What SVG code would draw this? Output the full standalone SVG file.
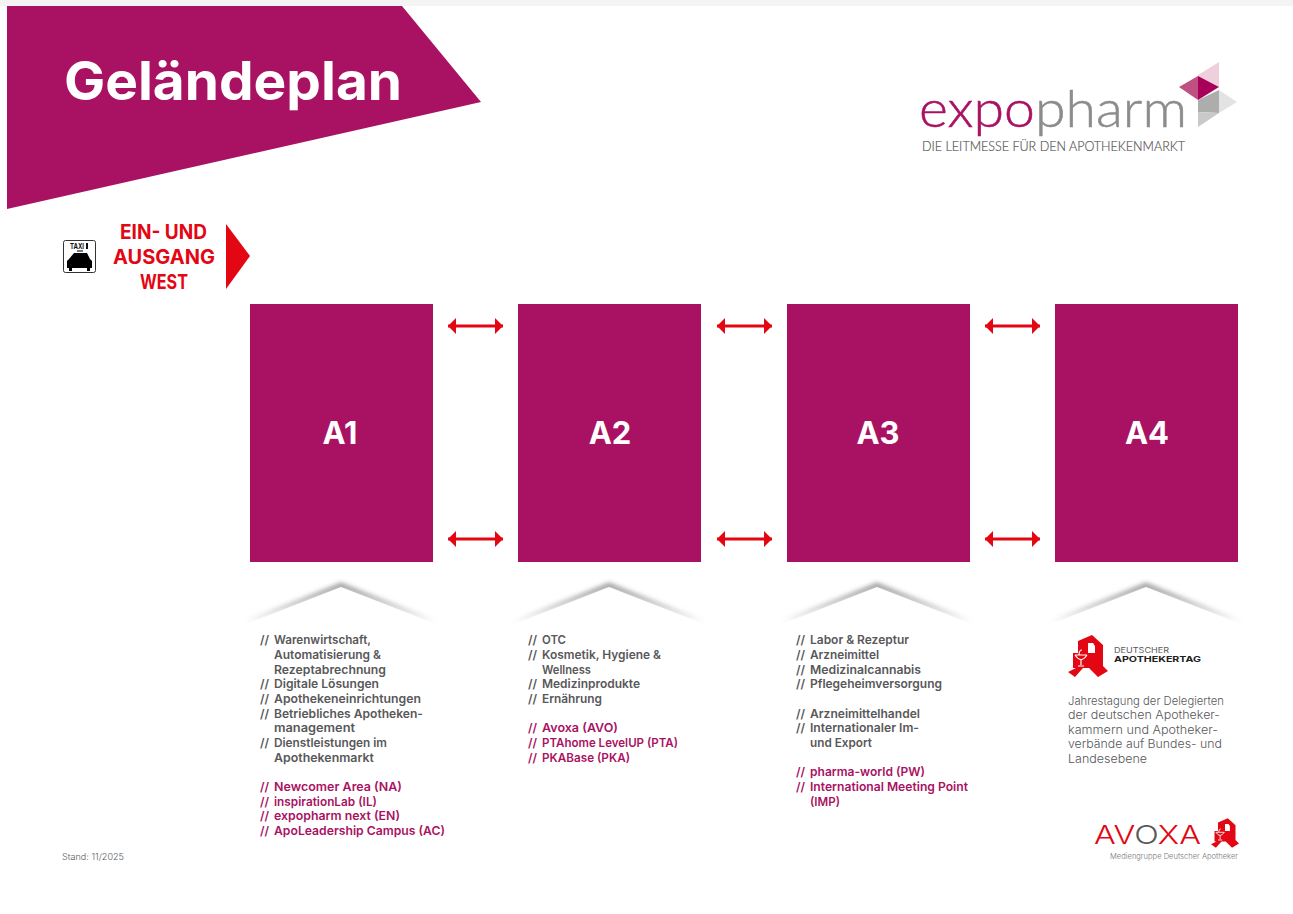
<svg xmlns="http://www.w3.org/2000/svg" width="1293" height="914" viewBox="0 0 1293 914">
<style>
text{font-family:Inter,"Liberation Sans",sans-serif}
.l{font-weight:600;font-size:12px;fill:#58585a}
.m{fill:#a91263}
.h{font-weight:700;font-size:31px;fill:#fff;text-anchor:middle}
.e{font-weight:700;font-size:20px;fill:#e30613}
.d{font-weight:300;font-size:11.500px;fill:#58585a}
.hall{fill:#a91263}
.arr{stroke:#e30613;stroke-width:2.8;fill:none;marker-start:url(#as);marker-end:url(#ae)}
.shade{fill:#8a8a8a;filter:url(#b)}
.cover{fill:#fff}
</style>
<defs>
<marker id="ae" markerUnits="userSpaceOnUse" markerWidth="9" markerHeight="16" refX="8" refY="8" orient="auto"><path d="M0 0L8 8L0 16Z" fill="#e30613"/></marker>
<marker id="as" markerUnits="userSpaceOnUse" markerWidth="9" markerHeight="16" refX="0" refY="8" orient="auto"><path d="M8 0L0 8L8 16Z" fill="#e30613"/></marker>
<filter id="b" x="-10%" y="-40%" width="120%" height="180%"><feGaussianBlur stdDeviation="2.400"/></filter>
<g id="apo"><path fill="#e30613" fill-rule="evenodd" d="M-10 -15L4 -21L15 -11V10L20 15L10 21L1 12H-5L-13 21L-20 16L-12 12H-15V-3H-10ZM0 -13H5L7 -10V-3H0Z"/><path fill="none" stroke="#fff" stroke-width="1.200" d="M-13 -1Q-7 8 -1 -1M-13 -1H-1M-7 3V9M-10 10H-4M-9 -1Q-9 -6 -6 -6"/></g>
<g id="roof"><path class="shade" d="M-4 36L91 -3L186 36L91 2Z"/><path class="cover" d="M-14 42L91 1L196 42Z"/></g>
</defs>
<rect width="1293" height="914" fill="#fff"/>
<rect width="1293" height="6" fill="#f4f4f4"/>
<g id="banner"><path d="M7 6H402L481 102L7 209Z" fill="#a91263"/><text x="64" y="100" font-weight="700" font-size="53" fill="#fff" textLength="338" lengthAdjust="spacingAndGlyphs">Geländeplan</text></g>
<g id="logo-expopharm">
<text x="919" y="127" style="font-family:Lato,sans-serif" font-weight="300" font-size="51" stroke-width=".5" textLength="268" lengthAdjust="spacingAndGlyphs"><tspan fill="#a91263" stroke="#a91263">expo</tspan><tspan fill="#8c8c8c" stroke="#8c8c8c">pharm</tspan></text>
<text x="922" y="151" style="font-family:Lato,sans-serif" font-weight="300" font-size="13.500" stroke="#58585a" stroke-width=".2" fill="#58585a" textLength="263" lengthAdjust="spacingAndGlyphs">DIE LEITMESSE FÜR DEN APOTHEKENMARKT</text>
<path d="M1198 75L1219 62V87L1198 76Z" fill="#efcfdc"/><path d="M1179 87L1198 76V100Z" fill="#c0507f"/><path d="M1198 76L1219 87L1198 100Z" fill="#a8005a"/>
<path d="M1219 90L1237 102L1219 113Z" fill="#e3e3e3"/><path d="M1198 100L1219 90V113L1198 112Z" fill="#adadad"/><path d="M1198 112L1219 113L1198 127Z" fill="#c9c9c9"/>
</g>
<g id="exit-west">
<rect x="63.500" y="240.500" width="32" height="32" rx="2" fill="#fff" stroke="#333"/>
<text x="70" y="249" font-weight="700" font-size="8" fill="#111" textLength="14" lengthAdjust="spacingAndGlyphs">TAXI</text><rect x="86" y="243" width="2" height="6" fill="#111"/>
<path d="M74 253H87L90 259L92 261V268H90V271H87V268H72V271H69V268H67V261L69 259Z" fill="#000"/><rect x="77" y="250" width="6" height="2" fill="#777"/>
<text class="e" x="120" y="239" textLength="87" lengthAdjust="spacingAndGlyphs">EIN- UND</text><text class="e" x="113" y="264" textLength="102" lengthAdjust="spacingAndGlyphs">AUSGANG</text><text class="e" x="140" y="289" textLength="48" lengthAdjust="spacingAndGlyphs">WEST</text>
<path d="M226 224L250 256L226 289Z" fill="#e30613"/>
</g>
<g id="hall-a1"><rect class="hall" x="250" y="304" width="183" height="258"/><text class="h" x="340" y="444">A1</text></g>
<g id="hall-a2"><rect class="hall" x="518" y="304" width="183" height="258"/><text class="h" x="610" y="444">A2</text></g>
<g id="hall-a3"><rect class="hall" x="787" y="304" width="183" height="258"/><text class="h" x="878" y="444">A3</text></g>
<g id="hall-a4"><rect class="hall" x="1055" y="304" width="183" height="258"/><text class="h" x="1147" y="444">A4</text></g>
<g id="connectors">
<path class="arr" d="M448 326H503"/><path class="arr" d="M717 326H772"/><path class="arr" d="M985 326H1040"/>
<path class="arr" d="M448 539H503"/><path class="arr" d="M717 539H772"/><path class="arr" d="M985 539H1040"/>
</g>
<g id="roofs">
<use href="#roof" x="250" y="586"/><use href="#roof" x="518" y="586"/><use href="#roof" x="786" y="586"/><use href="#roof" x="1055" y="586"/>
</g>
<g id="list-a1">
<text class="l" x="260" y="644">//</text><text class="l" x="274" y="644" textLength="97" lengthAdjust="spacingAndGlyphs">Warenwirtschaft,</text>
<text class="l" x="274" y="659" textLength="107" lengthAdjust="spacingAndGlyphs">Automatisierung &amp;</text>
<text class="l" x="274" y="674" textLength="112" lengthAdjust="spacingAndGlyphs">Rezeptabrechnung</text>
<text class="l" x="260" y="688">//</text><text class="l" x="274" y="688" textLength="105" lengthAdjust="spacingAndGlyphs">Digitale Lösungen</text>
<text class="l" x="260" y="703">//</text><text class="l" x="274" y="703" textLength="147" lengthAdjust="spacingAndGlyphs">Apothekeneinrichtungen</text>
<text class="l" x="260" y="718">//</text><text class="l" x="274" y="718" textLength="149" lengthAdjust="spacingAndGlyphs">Betriebliches Apotheken-</text>
<text class="l" x="274" y="732" textLength="81" lengthAdjust="spacingAndGlyphs">management</text>
<text class="l" x="260" y="747">//</text><text class="l" x="274" y="747" textLength="113" lengthAdjust="spacingAndGlyphs">Dienstleistungen im</text>
<text class="l" x="274" y="762" textLength="100" lengthAdjust="spacingAndGlyphs">Apothekenmarkt</text>
<text class="l m" x="260" y="791">//</text><text class="l m" x="274" y="791" textLength="128" lengthAdjust="spacingAndGlyphs">Newcomer Area (NA)</text>
<text class="l m" x="260" y="806">//</text><text class="l m" x="274" y="806" textLength="103" lengthAdjust="spacingAndGlyphs">inspirationLab (IL)</text>
<text class="l m" x="260" y="820">//</text><text class="l m" x="274" y="820" textLength="126" lengthAdjust="spacingAndGlyphs">expopharm next (EN)</text>
<text class="l m" x="260" y="835">//</text><text class="l m" x="274" y="835" textLength="171" lengthAdjust="spacingAndGlyphs">ApoLeadership Campus (AC)</text>
</g>
<g id="list-a2">
<text class="l" x="528" y="644">//</text><text class="l" x="542" y="644" textLength="24" lengthAdjust="spacingAndGlyphs">OTC</text>
<text class="l" x="528" y="659">//</text><text class="l" x="542" y="659" textLength="119" lengthAdjust="spacingAndGlyphs">Kosmetik, Hygiene &amp;</text>
<text class="l" x="542" y="674" textLength="49" lengthAdjust="spacingAndGlyphs">Wellness</text>
<text class="l" x="528" y="688">//</text><text class="l" x="542" y="688" textLength="98" lengthAdjust="spacingAndGlyphs">Medizinprodukte</text>
<text class="l" x="528" y="703">//</text><text class="l" x="542" y="703" textLength="60" lengthAdjust="spacingAndGlyphs">Ernährung</text>
<text class="l m" x="528" y="732">//</text><text class="l m" x="542" y="732" textLength="76" lengthAdjust="spacingAndGlyphs">Avoxa (AVO)</text>
<text class="l m" x="528" y="747">//</text><text class="l m" x="542" y="747" textLength="136" lengthAdjust="spacingAndGlyphs">PTAhome LevelUP (PTA)</text>
<text class="l m" x="528" y="762">//</text><text class="l m" x="542" y="762" textLength="88" lengthAdjust="spacingAndGlyphs">PKABase (PKA)</text>
</g>
<g id="list-a3">
<text class="l" x="796" y="644">//</text><text class="l" x="810" y="644" textLength="99" lengthAdjust="spacingAndGlyphs">Labor &amp; Rezeptur</text>
<text class="l" x="796" y="659">//</text><text class="l" x="810" y="659" textLength="69" lengthAdjust="spacingAndGlyphs">Arzneimittel</text>
<text class="l" x="796" y="674">//</text><text class="l" x="810" y="674" textLength="111" lengthAdjust="spacingAndGlyphs">Medizinalcannabis</text>
<text class="l" x="796" y="688">//</text><text class="l" x="810" y="688" textLength="132" lengthAdjust="spacingAndGlyphs">Pflegeheimversorgung</text>
<text class="l" x="796" y="718">//</text><text class="l" x="810" y="718" textLength="110" lengthAdjust="spacingAndGlyphs">Arzneimittelhandel</text>
<text class="l" x="796" y="732">//</text><text class="l" x="810" y="732" textLength="109" lengthAdjust="spacingAndGlyphs">Internationaler Im-</text>
<text class="l" x="810" y="747" textLength="62" lengthAdjust="spacingAndGlyphs">und Export</text>
<text class="l m" x="796" y="776">//</text><text class="l m" x="810" y="776" textLength="115" lengthAdjust="spacingAndGlyphs">pharma-world (PW)</text>
<text class="l m" x="796" y="791">//</text><text class="l m" x="810" y="791" textLength="158" lengthAdjust="spacingAndGlyphs">International Meeting Point</text>
<text class="l m" x="810" y="806" textLength="30" lengthAdjust="spacingAndGlyphs">(IMP)</text>
</g>
<g id="logo-dat"><use href="#apo" x="1088" y="656"/><text x="1114" y="653" font-size="7.500" fill="#58585a" textLength="55" lengthAdjust="spacingAndGlyphs">DEUTSCHER</text><text x="1114" y="662" font-weight="700" font-size="8" fill="#222" textLength="87" lengthAdjust="spacingAndGlyphs">APOTHEKERTAG</text></g>
<g id="text-a4"><text class="d" x="1068" y="705" textLength="156" lengthAdjust="spacingAndGlyphs">Jahrestagung der Delegierten</text><text class="d" x="1068" y="719" textLength="152" lengthAdjust="spacingAndGlyphs">der deutschen Apotheker-</text><text class="d" x="1068" y="734" textLength="150" lengthAdjust="spacingAndGlyphs">kammern und Apotheker-</text><text class="d" x="1068" y="748" textLength="154" lengthAdjust="spacingAndGlyphs">verbände auf Bundes- und</text><text class="d" x="1068" y="763" textLength="79" lengthAdjust="spacingAndGlyphs">Landesebene</text></g>
<g id="logo-avoxa"><text x="1094" y="844" font-weight="300" font-size="26" fill="#e30613" textLength="107" lengthAdjust="spacingAndGlyphs">AV<tspan fill="#58585a">O</tspan>XA</text><use href="#apo" transform="translate(1225 833) scale(.7)"/><text x="1110" y="859" font-weight="300" font-size="7.500" fill="#777" textLength="128" lengthAdjust="spacingAndGlyphs">Mediengruppe Deutscher Apotheker</text></g>
<text x="62" y="860" font-weight="300" font-size="8.500" fill="#58585a" textLength="62" lengthAdjust="spacingAndGlyphs">Stand: 11/2025</text>
</svg>
